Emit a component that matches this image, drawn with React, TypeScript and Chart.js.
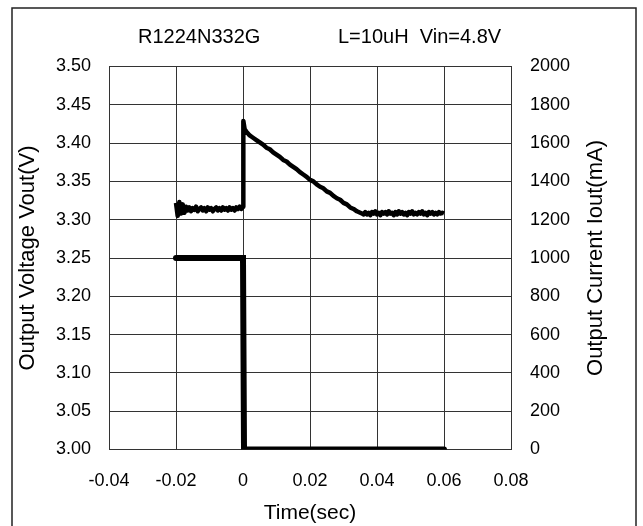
import { useEffect, useRef } from 'react';
import { Chart, registerables } from 'chart.js';

Chart.register(...registerables);

const chartTitleLeft = 'R1224N332G';
const chartTitleRight = 'L=10uH  Vin=4.8V';
const xAxisTitle = 'Time(sec)';
const yAxisTitle = 'Output Voltage Vout(V)';
const y2AxisTitle = 'Output Current Iout(mA)';

const xMin = -0.04;
const xMax = 0.08;
const xStep = 0.02;
const vMin = 3.0;
const vMax = 3.5;
const vStep = 0.05;
const iMin = 0;
const iMax = 2000;
const iStep = 200;

// Output voltage before the load step (time in s, voltage in V)
const preTime = [
  -0.0200, -0.0195, -0.0190, -0.0185, -0.0180, -0.0175, -0.0170, -0.0165, -0.0160, -0.0155,
  -0.0150, -0.0145, -0.0140, -0.0135, -0.0130, -0.0125, -0.0120, -0.0115, -0.0110, -0.0105,
  -0.0100, -0.0095, -0.0090, -0.0085, -0.0080, -0.0075, -0.0070, -0.0065, -0.0060, -0.0055,
  -0.0050, -0.0045, -0.0040, -0.0035, -0.0030, -0.0025, -0.0020, -0.0015, -0.0010, -0.0005,
  0.0000,
];
const preVolt = [
  3.322, 3.305, 3.323, 3.308, 3.320, 3.309, 3.317, 3.312, 3.316, 3.311,
  3.315, 3.313, 3.317, 3.311, 3.314, 3.316, 3.312, 3.315, 3.311, 3.316,
  3.313, 3.315, 3.311, 3.314, 3.316, 3.312, 3.315, 3.312, 3.316, 3.313,
  3.315, 3.312, 3.316, 3.313, 3.315, 3.312, 3.316, 3.314, 3.317, 3.314,
  3.317,
];

// Overshoot and recovery after the load step
const recTime = [
  0.0001, 0.0005,
  0.001, 0.002, 0.003, 0.004, 0.005, 0.006, 0.007, 0.008, 0.009, 0.010,
  0.011, 0.012, 0.013, 0.014, 0.015, 0.016, 0.017, 0.018, 0.019, 0.020,
  0.021, 0.022, 0.023, 0.024, 0.025, 0.026, 0.027, 0.028, 0.029, 0.030,
  0.031, 0.032, 0.033, 0.034, 0.035,
];
const recVolt = [
  3.429, 3.418,
  3.415, 3.410, 3.407, 3.404, 3.401, 3.398, 3.394, 3.392, 3.388, 3.385,
  3.382, 3.378, 3.376, 3.372, 3.369, 3.366, 3.362, 3.359, 3.356, 3.352,
  3.350, 3.346, 3.343, 3.341, 3.337, 3.335, 3.331, 3.328, 3.326, 3.322,
  3.320, 3.316, 3.314, 3.311, 3.309,
];

// Settled output voltage
const postTime = [
  0.0355, 0.0360, 0.0365, 0.0370, 0.0375, 0.0380, 0.0385, 0.0390, 0.0395, 0.0400,
  0.0405, 0.0410, 0.0415, 0.0420, 0.0425, 0.0430, 0.0435, 0.0440, 0.0445, 0.0450,
  0.0455, 0.0460, 0.0465, 0.0470, 0.0475, 0.0480, 0.0485, 0.0490, 0.0495, 0.0500,
  0.0505, 0.0510, 0.0515, 0.0520, 0.0525, 0.0530, 0.0535, 0.0540, 0.0545, 0.0550,
  0.0555, 0.0560, 0.0565, 0.0570, 0.0575, 0.0580, 0.0585, 0.0590, 0.0595, 0.0600,
];
const postVolt = [
  3.308, 3.307, 3.310, 3.307, 3.309, 3.306, 3.310, 3.308, 3.311, 3.307,
  3.309, 3.306, 3.310, 3.308, 3.310, 3.307, 3.311, 3.308, 3.309, 3.306,
  3.310, 3.307, 3.311, 3.308, 3.310, 3.307, 3.309, 3.306, 3.310, 3.308,
  3.311, 3.307, 3.309, 3.307, 3.310, 3.308, 3.311, 3.307, 3.309, 3.306,
  3.310, 3.308, 3.310, 3.307, 3.309, 3.307, 3.310, 3.308, 3.309, 3.308,
];

// Output current (time in s, current in mA)
const currTime = [-0.02, 0.0, 0.0003, 0.06];
const currValue = [1000, 1000, 0, 0];

const FONT = "'Liberation Sans', Arial, sans-serif";
const tickFont = { family: FONT, size: 18 };
const titleFont = { family: FONT, size: 21 };
const gridColor = '#333';

const fmtX = (v: number) => {
  const r = Math.round(v * 100) / 100;
  return r === 0 ? '0' : String(r);
};

const framePlugin = {
  id: 'framePlugin',
  beforeDraw(chart: any) {
    const { ctx, width, height } = chart;
    ctx.save();
    ctx.fillStyle = '#fff';
    ctx.fillRect(0, 0, width, height);
    ctx.restore();
  },
  afterDraw(chart: any) {
    const { ctx, chartArea } = chart;
    ctx.save();
    ctx.strokeStyle = '#222';
    ctx.lineWidth = 1.5;
    ctx.strokeRect(12, 8, 624, 540);
    ctx.fillStyle = '#000';
    ctx.font = `20px ${FONT}`;
    ctx.textBaseline = 'middle';
    ctx.textAlign = 'left';
    ctx.fillText(chartTitleLeft, chartArea.left + 29, 37);
    ctx.fillText(chartTitleRight, chartArea.left + 229, 37);
    // right axis title, reading bottom-to-top
    ctx.font = `22px ${FONT}`;
    ctx.textAlign = 'center';
    ctx.translate(chartArea.right + 85, (chartArea.top + chartArea.bottom) / 2);
    ctx.rotate(-Math.PI / 2);
    ctx.fillText(y2AxisTitle, 0, 0);
    ctx.restore();
  },
};

export default function App() {
  const ref = useRef<HTMLCanvasElement | null>(null);
  useEffect(() => {
    if (!ref.current) return;
    const voltPts = [
      ...preTime.map((t, i) => ({ x: t, y: preVolt[i] })),
      ...recTime.map((t, i) => ({ x: t, y: recVolt[i] })),
      ...postTime.map((t, i) => ({ x: t, y: postVolt[i] })),
    ];
    const chart = new Chart(ref.current, {
      type: 'line',
      data: {
        datasets: [
          {
            data: voltPts,
            yAxisID: 'y',
            borderColor: '#000',
            borderWidth: 4.5,
            pointRadius: 0,
            tension: 0,
            borderJoinStyle: 'round',
          },
          {
            data: currTime.map((t, i) => ({ x: t, y: currValue[i] })),
            yAxisID: 'y2',
            borderColor: '#000',
            borderWidth: 6,
            pointRadius: 0,
            tension: 0,
            borderCapStyle: 'round',
            borderJoinStyle: 'miter',
          },
        ],
      },
      options: {
        responsive: false,
        animation: false,
        devicePixelRatio: 1,
        layout: { padding: { top: 66.5, left: 0, right: 0, bottom: 0 } },
        plugins: { legend: { display: false }, tooltip: { enabled: false }, title: { display: false } },
        scales: {
          x: {
            type: 'linear',
            min: xMin,
            max: xMax,
            ticks: { stepSize: xStep, autoSkip: false, color: '#000', font: tickFont, padding: 21, maxRotation: 0, callback: (v: any) => fmtX(Number(v)) },
            grid: { color: gridColor, lineWidth: 1, drawTicks: false },
            border: { display: true, color: gridColor, width: 1 },
            title: { display: true, text: xAxisTitle, color: '#000', font: titleFont, padding: { top: 3.4, bottom: 0 } },
            afterFit: (s: any) => { s.height = 76.5; },
          },
          y: {
            type: 'linear',
            position: 'left',
            min: vMin,
            max: vMax,
            ticks: { stepSize: vStep, autoSkip: false, color: '#000', font: tickFont, padding: 18, callback: (v: any) => Number(v).toFixed(2) },
            grid: { color: gridColor, lineWidth: 1, drawTicks: false },
            border: { display: true, color: gridColor, width: 1 },
            title: { display: true, text: yAxisTitle, color: '#000', font: { family: FONT, size: 22 }, padding: { top: 15, bottom: 0 } },
            afterFit: (s: any) => { s.width = 109; },
          },
          y2: {
            type: 'linear',
            position: 'right',
            min: iMin,
            max: iMax,
            ticks: { stepSize: iStep, autoSkip: false, color: '#000', font: tickFont, padding: 19, callback: (v: any) => String(Math.round(Number(v))) },
            grid: { display: false, drawTicks: false },
            border: { display: true, color: gridColor, width: 1 },
            title: { display: false },
            afterFit: (s: any) => { s.width = 132; },
          },
        },
      },
      plugins: [framePlugin],
    } as any);
    return () => chart.destroy();
  }, []);
  return (
    <div style={{ position: 'absolute', left: 0, top: 0, width: 643, height: 526 }}>
      <canvas ref={ref} width={643} height={526} style={{ width: 643, height: 526, display: 'block' }} />
    </div>
  );
}
